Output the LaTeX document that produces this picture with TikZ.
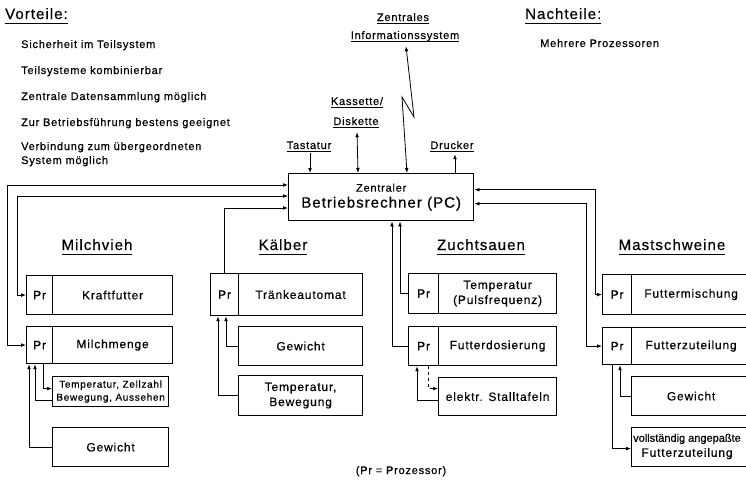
\documentclass[tikz,border=0pt]{standalone}
\usepackage{fontspec}
\setmainfont{Liberation Sans}[LetterSpace=7,FakeBold=0.5]
\usetikzlibrary{arrows.meta,calc}
\newcommand\ulx[2][3pt]{\leavevmode\setbox0\hbox{#2}\rlap{\rule[-#1]{\wd0}{1pt}}\box0}
\begin{document}
\begin{tikzpicture}[x=1pt,y=-1pt,
  >={Latex[length=5pt,width=3.8pt]},
  txt/.style={font=\fontsize{11}{14}\selectfont, inner sep=0pt, anchor=base west},
  ttl/.style={font=\fontsize{15}{18}\selectfont, inner sep=0pt},
  lbl/.style={font=\fontsize{11}{14}\selectfont, inner sep=0pt, anchor=base},
  box/.style={draw, line width=1.2pt, inner sep=0pt, anchor=north west, align=center,
              font=\fontsize{12}{15}\selectfont},
  con/.style={line width=0.8pt}]
\useasboundingbox (0,0) rectangle (746,480);
\clip (0,0) rectangle (746,480);

% ---------- Vorteile / Nachteile ----------
\node[ttl, anchor=base west] (vt) at (5,19) {\ulx[5pt]{Vorteile:}};
\node[txt] (v1) at (21,48) {Sicherheit im Teilsystem};
\node[txt] (v2) at (21,74) {Teilsysteme kombinierbar};
\node[txt] (v3) at (21,100) {Zentrale Datensammlung möglich};
\node[txt] (v4) at (21,126) {Zur Betriebsführung bestens geeignet};
\node[txt] (v5) at (21,150) {Verbindung zum übergeordneten};
\node[txt] (v6) at (21,164) {System möglich};
\node[ttl, anchor=base west] (nt) at (525,19) {\ulx[5pt]{Nachteile:}};
\node[txt] (n1) at (540,47) {Mehrere Prozessoren};

% ---------- top labels ----------
\node[lbl] (zis1) at (403,21) {\ulx{Zentrales}};
\node[lbl] (zis2) at (405,39) {\ulx{Informationssystem}};
\node[lbl] (kd1) at (357,105) {\ulx{Kassette/}};
\node[lbl] (kd2) at (356,125) {\ulx{Diskette}};
\node[lbl] (tast) at (309,149) {\ulx{Tastatur}};
\node[lbl] (druck) at (452,149) {\ulx{Drucker}};

% ---------- PC ----------
\node[box, line width=1.4pt, minimum width=185pt, minimum height=47pt] (pc) at (288,173)
  {{\fontsize{11}{13}\selectfont Zentraler}\\[1pt]\fontsize{15}{18}\selectfont Betriebsrechner (PC)};

\draw[con,->] ($(tast.south)+(1,1)$) -- ($(pc.north west)+(22,0)$);
\draw[con,<->] ($(kd2.south)+(1,4)$) -- ($(pc.north west)+(70,0)$);
\draw[con,->] ($(pc.north west)+(167,0)$) -- ($(druck.south)+(3,2)$);
\draw[con,<->] ($(zis2.south)+(1,4)$) -- (414,117) -- (402,97) -- ($(pc.north west)+(119,0)$);

% ---------- Milchvieh ----------
\node[ttl, anchor=base] (tmv) at (97,250) {\ulx[5pt]{Milchvieh}};
\node[box, minimum width=26pt, minimum height=39pt] (mpr1) at (26,275) {Pr};
\node[box, minimum width=120pt, minimum height=39pt] (mk) at (52,275) {Kraftfutter};
\node[box, minimum width=26pt, minimum height=37pt] (mpr2) at (26,326) {Pr};
\node[box, minimum width=120pt, minimum height=37pt] (mm) at (52,326) {Milchmenge};
\node[box, minimum width=116pt, minimum height=30pt, font=\fontsize{10}{13}\selectfont] (mt) at (52,376)
  {Temperatur, Zellzahl\\Bewegung, Aussehen};
\node[box, minimum width=116pt, minimum height=39pt] (mg) at (52,427) {Gewicht};

\draw[con,<->] (mpr2.west) -| (7,185) -- (pc.west |- 7,185);
\draw[con,<->] (mpr1.west) -| (17,196) -- (pc.west |- 17,196);
\draw[con,->] (mg.west) -| ($(mpr2.south west)+(3,0)$);
\draw[con,->] ($(mt.west)+(0,9)$) -| ($(mpr2.south west)+(9,0)$);
\draw[con,->] ($(mpr2.south west)+(17,0)$) |- ($(mt.west)+(0,-3)$);

% ---------- Kaelber ----------
\node[ttl, anchor=base] (tkb) at (283,250) {\ulx[5pt]{Kälber}};
\node[box, minimum width=28pt, minimum height=42pt] (kpr) at (210,273) {Pr};
\node[box, minimum width=124pt, minimum height=42pt] (ka) at (238,273) {Tränkeautomat};
\node[box, minimum width=124pt, minimum height=39pt] (kg) at (238,326) {Gewicht};
\node[box, minimum width=124pt, minimum height=40pt] (kt) at (238,375) {Temperatur,\\Bewegung};

\draw[con,->] (kpr.north) |- (pc.west |- 224,208);
\draw[con,->] (kg.west) -| ($(kpr.south west)+(16,0)$);
\draw[con,->] (kt.west) -| ($(kpr.south west)+(8,0)$);

% ---------- Zuchtsauen ----------
\node[ttl, anchor=base] (tzs) at (481,250) {\ulx[5pt]{Zuchtsauen}};
\node[box, minimum width=30pt, minimum height=40pt] (zpr1) at (408,273) {Pr};
\node[box, minimum width=118pt, minimum height=40pt] (zt) at (438,273) {Temperatur\\(Pulsfrequenz)};
\node[box, minimum width=30pt, minimum height=39pt] (zpr2) at (408,326) {Pr};
\node[box, minimum width=118pt, minimum height=39pt] (zf) at (438,326) {Futterdosierung};
\node[box, minimum width=118pt, minimum height=38pt] (ze) at (438,377) {elektr. Stalltafeln};

\draw[con,->] (zpr1.west) -| ($(pc.south west)+(112,0)$);
\draw[con,->] (zpr2.west) -| ($(pc.south west)+(104,0)$);
\draw[con,->] ($(ze.west)+(0,4)$) -| ($(zpr2.south west)+(9,0)$);
\draw[con,->,dashed] ($(zpr2.south west)+(20,0)$) |- ($(ze.west)+(0,-8)$);

% ---------- Mastschweine ----------
\node[ttl, anchor=base] (tms) at (672,250) {\ulx[5pt]{Mastschweine}};
\node[box, minimum width=29pt, minimum height=40pt] (spr1) at (602,274) {Pr};
\node[box, minimum width=119pt, minimum height=40pt] (sf) at (631,274) {Futtermischung};
\node[box, minimum width=29pt, minimum height=37pt] (spr2) at (602,327) {Pr};
\node[box, minimum width=119pt, minimum height=37pt] (sz) at (631,327) {Futterzuteilung};
\node[box, minimum width=119pt, minimum height=39pt] (sg) at (631,376) {Gewicht};
\node[box, minimum width=119pt, minimum height=39pt] (sv) at (631,427) {};
\node[anchor=west, inner sep=0pt, align=center, font=\fontsize{12}{15}\selectfont] (svt) at (633,446.5)
  {{\fontsize{11}{15}\addfontfeatures{LetterSpace=0}\selectfont vollständig angepaßte}\\Futterzuteilung};

\draw[con,<->] (spr1.west) -| ($(pc.east)+(121,-7.5)$) -- ($(pc.east)+(0,-7.5)$);
\draw[con,<->] (spr2.west) -| ($(pc.east)+(112,6.5)$) -- ($(pc.east)+(0,6.5)$);
\draw[con,->] ($(spr2.south west)+(10,0)$) |- ($(sv.west)+(0,1.5)$);
\draw[con,->] (sg.west) -| ($(spr2.south west)+(18,0)$);

% ---------- legend ----------
\node[lbl] (leg) at (401,474) {(Pr = Prozessor)};
\end{tikzpicture}
\end{document}
